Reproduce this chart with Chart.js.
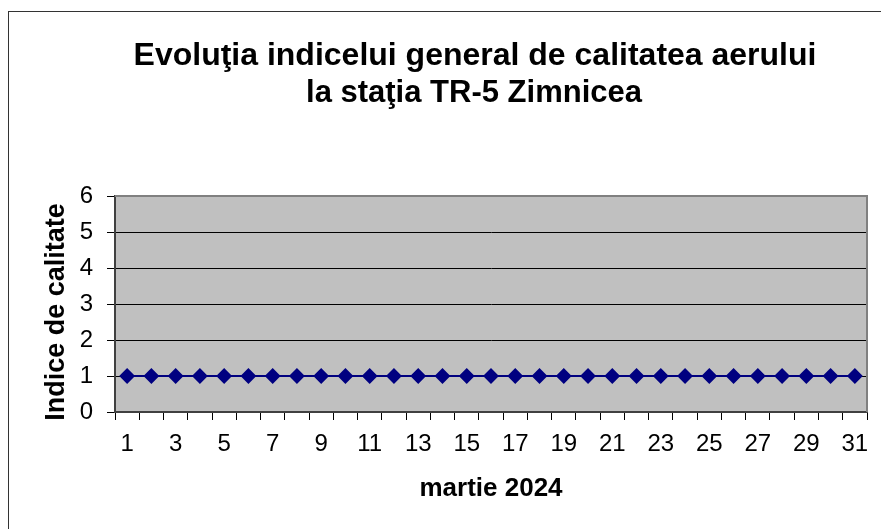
<!DOCTYPE html>
<html>
<head>
<meta charset="utf-8">
<script src="https://cdn.jsdelivr.net/npm/chart.js@4/dist/chart.umd.min.js"></script>
<style>
  html, body { margin: 0; padding: 0; background: #fff; }
  canvas { display: block; }
</style>
</head>
<body>
<canvas id="chart" width="881" height="529"></canvas>
<script>
const titleLines = ["Evoluţia indicelui general de calitatea aerului", "la staţia TR-5 Zimnicea"];
const yTitle = "Indice de calitate";
const days = [1, 2, 3, 4, 5, 6, 7, 8, 9, 10, 11, 12, 13, 14, 15, 16, 17, 18, 19, 20, 21, 22, 23, 24, 25, 26, 27, 28, 29, 30, 31];
const indice = [1, 1, 1, 1, 1, 1, 1, 1, 1, 1, 1, 1, 1, 1, 1, 1, 1, 1, 1, 1, 1, 1, 1, 1, 1, 1, 1, 1, 1, 1, 1];
const yMin = 0, yMax = 6, yStep = 1;

const FONT = "Arial, 'Liberation Sans', sans-serif";

// fond gris, cadre exterieur, titre et titre de l'axe Y
const decor = {
  id: "decor",
  beforeDraw(chart) {
    const { ctx, chartArea: a } = chart;
    ctx.save();
    ctx.fillStyle = "#c0c0c0";
    ctx.fillRect(a.left, a.top, a.right - a.left, a.bottom - a.top);
    ctx.strokeStyle = "#333";
    ctx.lineWidth = 1;
    ctx.strokeRect(8.5, 11.5, 1000, 1000);
    ctx.fillStyle = "#000";
    ctx.font = "bold 32px " + FONT;
    ctx.textAlign = "center";
    ctx.textBaseline = "alphabetic";
    ctx.fillText(titleLines[0], 475, 65);
    ctx.font = "bold 31px " + FONT;
    ctx.fillText(titleLines[1], 474, 102);
    // titre axe Y, un peu plus bas que le centre du graphique
    ctx.translate(57, (a.top + a.bottom) / 2 + 8);
    ctx.rotate(-Math.PI / 2);
    ctx.font = "bold 27px " + FONT;
    ctx.textBaseline = "middle";
    ctx.fillText(yTitle, 0, 0);
    ctx.restore();
  },
  beforeDatasetsDraw(chart) {
    const { ctx, chartArea: a } = chart;
    ctx.save();
    ctx.strokeStyle = "#808080";
    ctx.lineWidth = 2;
    ctx.beginPath();
    ctx.moveTo(a.left, a.top);
    ctx.lineTo(a.right, a.top);
    ctx.lineTo(a.right, a.bottom);
    ctx.stroke();
    ctx.restore();
  },
};

new Chart(document.getElementById("chart"), {
  type: "line",
  data: {
    labels: days,
    datasets: [{
      data: indice,
      borderColor: "#000080",
      backgroundColor: "#000080",
      borderWidth: 2,
      pointStyle: "rectRot",
      pointRadius: 6.5,
      pointHoverRadius: 6.5,
      tension: 0,
    }],
  },
  options: {
    responsive: false,
    animation: false,
    layout: { padding: { left: 20, right: 14, top: 196, bottom: 10 } },
    plugins: { legend: { display: false }, tooltip: { enabled: false } },
    scales: {
      x: {
        offset: true,
        grid: { offset: true, drawOnChartArea: false, color: "#000", tickLength: 8 },
        border: { color: "#404040", width: 2 },
        ticks: {
          autoSkip: false, maxRotation: 0, padding: 10, color: "#000",
          font: { family: FONT, size: 24 },
          callback: (v, i) => (i % 2 === 0 ? days[i] : ""),
        },
        title: {
          display: true, text: "martie 2024", color: "#000",
          font: { family: FONT, size: 26, weight: "bold" },
          padding: { top: 0, bottom: 15 },
        },
        afterFit: (s) => { s.height = 107; },
      },
      y: {
        min: yMin, max: yMax,
        grid: { color: "#000", tickLength: 8 },
        border: { color: "#404040", width: 2 },
        ticks: {
          stepSize: yStep, padding: 14, color: "#000",
          font: { family: FONT, size: 24 },
        },
        afterFit: (s) => { s.width = 95; },
      },
    },
  },
  plugins: [decor],
});
</script>
</body>
</html>
